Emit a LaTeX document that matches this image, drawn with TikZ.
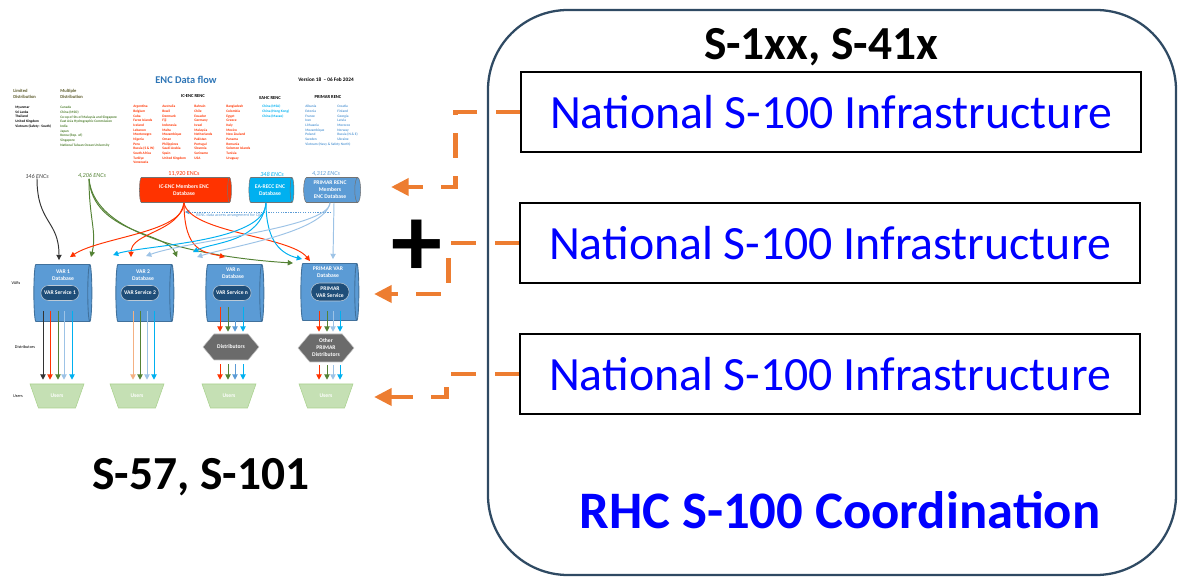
\documentclass[tikz,border=0pt]{standalone}
\usepackage{fontspec}
\setmainfont{Carlito}
\usetikzlibrary{shapes.geometric, shapes.misc, shapes.symbols, arrows.meta, positioning, calc}
\definecolor{feedOrange}{HTML}{ED7D31}
\definecolor{frameSlate}{HTML}{2F4A63}
\definecolor{infraBlue}{HTML}{0000FF}
\definecolor{titleBlue}{HTML}{2E75B6}
\definecolor{icRed}{HTML}{FF3300}
\definecolor{eaCyan}{HTML}{00B0F0}
\definecolor{primarBlue}{HTML}{5B9BD5}
\definecolor{varEdge}{HTML}{41719C}
\definecolor{pillBlue}{HTML}{1F4E79}
\definecolor{distGray}{HTML}{6B6B6B}
\definecolor{usersGreen}{HTML}{C5E0B4}
\definecolor{usersEdge}{HTML}{A9D18E}
\definecolor{encGreen}{HTML}{548235}
\definecolor{paleBlue}{HTML}{9DC3E6}
\definecolor{paleRed}{HTML}{F4B183}
\definecolor{headOlive}{HTML}{5C5A2A}
\newcommand{\tinyText}{\fontsize{2.0}{2.65}\selectfont}
\newcommand{\smallText}{\fontsize{3.2}{4}\selectfont}
\tikzstyle{infraBox}=[draw, line width=1.1pt, minimum width=12.4cm, minimum height=1.6cm, text=infraBlue, font=\fontsize{27.2}{32}\selectfont]
\tikzstyle{bigLabel}=[font=\bfseries\fontsize{27}{32}\selectfont]
\tikzstyle{feedArrow}=[draw=feedOrange, line width=2.8pt, dash pattern=on 14pt off 10.5pt, -{Triangle[length=10pt, width=9.5pt]}]
\tikzstyle{rencDb}=[cylinder, aspect=0.3, draw=black!55, line width=0.3pt, text=white, font=\bfseries\smallText, align=center, inner sep=0.5pt]
\tikzstyle{varDb}=[cylinder, aspect=0.35, fill=primarBlue, draw=varEdge, line width=0.5pt, minimum height=1.16cm, minimum width=1.14cm]
\tikzstyle{varLabel}=[text=white, font=\bfseries\smallText, align=center, inner sep=0pt]
\tikzstyle{varPill}=[rounded rectangle, fill=pillBlue, draw=white!70!pillBlue, line width=0.3pt, text=white, font=\bfseries\smallText, align=center, minimum width=0.8cm, minimum height=0.3cm, inner sep=0.5pt]
\tikzstyle{distBox}=[signal, signal to=west and east, signal pointer angle=100, fill=distGray, draw=white!60!distGray, line width=0.3pt, text=white, font=\bfseries\smallText, align=center, minimum width=1.12cm, minimum height=0.52cm, inner sep=0.5pt]
\tikzstyle{usersBox}=[trapezium, trapezium stretches=true, shape border rotate=180, trapezium left angle=70, trapezium right angle=70, fill=usersGreen, draw=usersEdge, line width=0.3pt, text=white, font=\bfseries\smallText, minimum width=1.08cm, minimum height=0.48cm]
\tikzstyle{countryList}=[anchor=north west, inner sep=0pt, align=left, font=\bfseries\tinyText]
\tikzstyle{listHead}=[inner sep=0pt, align=left, font=\bfseries\fontsize{2.6}{3.4}\selectfont]
\tikzstyle{encCount}=[inner sep=0pt, font=\itshape\fontsize{3.5}{4}\selectfont]
\tikzstyle{sideLabel}=[inner sep=0pt, font=\fontsize{2.4}{3}\selectfont]
\tikzstyle{flowArrow}=[line width=0.55pt, -{Triangle[length=3pt, width=3pt]}]

\begin{document}
\begin{tikzpicture}[x=0.02cm, y=-0.02cm]
  \useasboundingbox (0,0) rectangle (1178,577);
  % S-100 side
  \draw[frameSlate, line width=1.3pt, rounded corners=1.6cm] (488,10) rectangle (1176,575);
  \node[bigLabel] (s1xx) at (821,47) {S-1xx, S-41x};
  \node[infraBox] (infraA) at (831,112) {National S-100 Infrastructure};
  \node[infraBox] (infraB) at (830,243) {National S-100 Infrastructure};
  \node[infraBox] (infraC) at (830,374) {National S-100 Infrastructure};
  \node[text=infraBlue, font=\bfseries\fontsize{30}{34}\selectfont] (rhc) at (840,510) {RHC S-100 Coordination};
  \node[bigLabel] (s57) at (201,477) {S-57, S-101};
  \node[font=\bfseries\fontsize{58}{58}\selectfont, inner sep=0pt] (plus) at (417,248) {+};

  \coordinate (feedTipA) at (391,187);
  \coordinate (feedTipB) at (374,294);
  \coordinate (feedTipC) at (374,397);
  \draw[feedArrow] (infraA.west) -- ++(-65,0) |- (feedTipA);
  \draw[feedArrow] (infraB.west) -- ++(-71,0) |- (feedTipB);
  \draw[feedArrow] (infraC.west) -- ++(-73,0) |- (feedTipC);

  % ENC data flow
  \node[font=\bfseries\fontsize{5.9}{7}\selectfont, text=titleBlue] (encTitle) at (186,80) {ENC Data flow};
  \node[font=\bfseries\fontsize{3}{4}\selectfont] (version) at (326,80) {Version 18 \ -- 06 Feb 2024};
  \node[listHead, text=headOlive, anchor=north west] (limitedHead) at (13,89) {Limited\\Distribution};
  \node[listHead, text=headOlive, anchor=north west] (multipleHead) at (60,89) {Multiple\\Distribution};
  \node[listHead] (icHead) at (193,96) {IC-ENC RENC};
  \node[listHead] (eahcHead) at (270,98) {EAHC RENC};
  \node[listHead] (primarHead) at (328,97) {PRIMAR RENC};

  \node[countryList] (limitedList) at (15,106) {Myanmar\\Sri Lanka\\Thailand\\United Kingdom\\Vietnam (Safety - South)};
  \node[countryList, text=encGreen] (multipleList) at (60,106) {Canada\\China (MSO)\\Co-op of Sts of Malaysia and Singapore\\East Asia Hydrographic Commission\\India\\Japan\\Korea (Rep. of)\\Singapore\\National Taiwan Ocean University};
  \node[countryList, text=icRed] (icColA) at (133,105) {Argentina\\Belgium\\Cuba\\Faroe Islands\\Iceland\\Lebanon\\Montenegro\\Nigeria\\Peru\\Russia (S \& W)\\South Africa\\Turkiye\\Venezuela};
  \node[countryList, text=icRed] (icColB) at (162,105) {Australia\\Brazil\\Denmark\\Fiji\\Indonesia\\Malta\\Mozambique\\Oman\\Philippines\\Saudi Arabia\\Spain\\United Kingdom};
  \node[countryList, text=icRed] (icColC) at (194,105) {Bahrain\\Chile\\Ecuador\\Germany\\Israel\\Malaysia\\Netherlands\\Pakistan\\Portugal\\Slovenia\\Suriname\\USA};
  \node[countryList, text=icRed] (icColD) at (226,105) {Bangladesh\\Colombia\\Egypt\\Greece\\Italy\\Mexico\\New Zealand\\Panama\\Romania\\Solomon Islands\\Tunisia\\Uruguay};
  \node[countryList, text=eaCyan] (eahcList) at (262,105) {China (MSA)\\China (Hong Kong)\\China (Macao)};
  \node[countryList, text=primarBlue] (primarColA) at (305,105) {Albania\\Estonia\\France\\Iran\\Lithuania\\Mozambique\\Poland\\Sweden\\Vietnam (Navy \& Safety North)};
  \node[countryList, text=primarBlue] (primarColB) at (337,105) {Croatia\\Finland\\Georgia\\Latvia\\Morocco\\Norway\\Russia (N \& E)\\Ukraine};

  \node[encCount, text=black!75] (enc146) at (37,176) {146 ENCs};
  \node[encCount, text=encGreen] (enc4206) at (92,176) {4,206 ENCs};
  \node[encCount, font=\fontsize{3.5}{4}\selectfont, text=icRed] (enc11920) at (184,174) {11,920 ENCs};
  \node[encCount, text=eaCyan] (enc348) at (272,174) {348 ENCs};
  \node[encCount, text=primarBlue] (enc4312) at (326,174) {4,312 ENCs};

  \node[rencDb, fill=icRed, minimum height=1.84cm, minimum width=0.5cm] (icenc) at (184,190) {IC-ENC Members ENC\\Database};
  \node[rencDb, fill=eaCyan, minimum height=0.9cm, minimum width=0.5cm] (earecc) at (270,190) {EA-RECC ENC\\Database};
  \node[rencDb, fill=primarBlue, minimum height=1.14cm, minimum width=0.5cm] (primarRenc) at (330,190) {PRIMAR RENC\\Members\\ENC Database};

  \coordinate (qaFrom) at (331,212);
  \coordinate (qaTo) at (185,212);
  \draw[primarBlue, line width=0.4pt, dash pattern=on 0.7pt off 0.7pt, -{Triangle[length=2.5pt, width=2.5pt]}] (qaFrom) -- node[pos=0.7, below=0.5pt, inner sep=0pt, font=\fontsize{2.4}{3}\selectfont] {RENC data access arrangement for QA} (qaTo);

  % VARs
  \node[varDb] (var1) at (61,293) {};
  \node[varDb] (var2) at (143,293) {};
  \node[varDb] (varN) at (233,293) {};
  \node[varDb] (primarVar) at (328,292) {};
  \node[varLabel] (var1Label) at (63,275) {VAR 1\\Database};
  \node[varLabel] (var2Label) at (143,275) {VAR 2\\Database};
  \node[varLabel] (varNLabel) at (233,273) {VAR n\\Database};
  \node[varLabel] (primarVarLabel) at (328,272) {PRIMAR VAR\\Database};
  \node[varPill] (var1Pill) at (60,293) {VAR Service 1};
  \node[varPill] (var2Pill) at (140,293) {VAR Service 2};
  \node[varPill] (varNPill) at (232,293) {VAR Service n};
  \node[varPill, minimum height=0.36cm] (primarPill) at (330,292) {PRIMAR\\VAR Service};

  \node[sideLabel] (varsLabel) at (16,283) {VARs};
  \node[sideLabel] (distLabel) at (25,347) {Distributors};
  \node[sideLabel] (usersLabel) at (18,396) {Users};

  \node[distBox] (distN) at (231,347) {Distributors};
  \node[distBox, minimum height=0.56cm] (distP) at (326,348) {Other\\PRIMAR\\Distributors};

  \node[usersBox] (users1) at (57,396) {Users};
  \node[usersBox] (users2) at (137,396) {Users};
  \node[usersBox] (users3) at (229,396) {Users};
  \node[usersBox] (users4) at (326,396) {Users};

  % feeds into the VARs
  \draw[flowArrow, black!80] (enc146.south) .. controls +(0,45) and +(0,-40) .. ($(var1.north)+(-2,-4)$);
  \draw[flowArrow, encGreen] ($(enc4206.south)+(-3,0)$) .. controls +(0,40) and +(6,-25) .. ($(var1.north)+(30,-7)$);
  \draw[flowArrow, encGreen] ($(enc4206.south)+(-3,0)$) .. controls +(4,55) and +(-10,-25) .. ($(var2.north)+(34,-7)$);
  \draw[flowArrow, encGreen] ($(enc4206.south)+(-3,0)$) .. controls +(5,60) and +(-80,-5) .. ($(primarVar.north)+(-35,0)$);
  \draw[flowArrow, icRed] (icenc.south) .. controls +(0,30) and +(30,-20) .. ($(var1.north)+(9,-7)$);
  \draw[flowArrow, icRed] (icenc.south) .. controls +(-5,30) and +(0,-25) .. ($(var2.north)+(-12,-7)$);
  \draw[flowArrow, icRed] (icenc.south) .. controls +(0,50) and +(-20,-5) .. ($(varN.north)+(-8,-7)$);
  \draw[flowArrow, icRed] (icenc.south) .. controls +(5,30) and +(-20,-25) .. ($(primarVar.north)+(-18,-2)$);
  \draw[flowArrow, eaCyan] ($(earecc.south)+(-4,0)$) .. controls +(0,40) and +(30,-10) .. ($(var2.north)+(-30,-9)$);
  \draw[flowArrow, eaCyan] ($(earecc.south)+(-4,0)$) .. controls +(-5,40) and +(20,-10) .. ($(varN.north)+(-40,-12)$);
  \draw[flowArrow, eaCyan] ($(earecc.south)+(-4,0)$) .. controls +(0,40) and +(-20,-5) .. ($(primarVar.north)+(-26,-4)$);
  \draw[flowArrow, paleBlue] (primarRenc.south) .. controls +(0,25) and +(40,-15) .. ($(var2.north)+(3,-8)$);
  \draw[flowArrow, paleBlue] (primarRenc.south) .. controls +(-5,30) and +(30,-10) .. ($(varN.north)+(-36,-7)$);
  \draw[flowArrow, paleBlue] ($(primarRenc.south)+(4,0)$) -- ($(primarVar.north)+(5,-4)$);

  % VARs to users
  \foreach \dx/\col in {-14/black!80, -7/icRed, 1/encGreen, 7/paleBlue, 15/eaCyan}
    \draw[flowArrow, \col] ($(users1.north |- var1.south)+(\dx,-11)$) -- ($(users1.north)+(\dx,-4)$);
  \foreach \dx/\col in {-4/paleRed, 3/encGreen, 10/paleBlue, 17/eaCyan}
    \draw[flowArrow, \col] ($(users2.north |- var2.south)+(\dx,-11)$) -- ($(users2.north)+(\dx,-4)$);
  \foreach \dx/\col in {-11/icRed, -3/encGreen, 4/primarBlue, 12/eaCyan} {
    \draw[flowArrow, \col] ($(distN.north |- varN.south)+(\dx,-15)$) -- ($(distN.north)+(\dx,-2)$);
    \draw[flowArrow, \col] ($(distN.south)+(\dx,4)$) -- ($(distN.south |- users3.north)+(\dx,-4)$);
  }
  \foreach \dx/\col in {-7/icRed, 1/encGreen, 7/paleBlue, 14/eaCyan} {
    \draw[flowArrow, \col] ($(distP.north |- primarVar.south)+(\dx,-10)$) -- ($(distP.north)+(\dx,-2)$);
    \draw[flowArrow, \col] ($(distP.south)+(\dx,3)$) -- ($(distP.south |- users4.north)+(\dx,-4)$);
  }
\end{tikzpicture}
\end{document}
